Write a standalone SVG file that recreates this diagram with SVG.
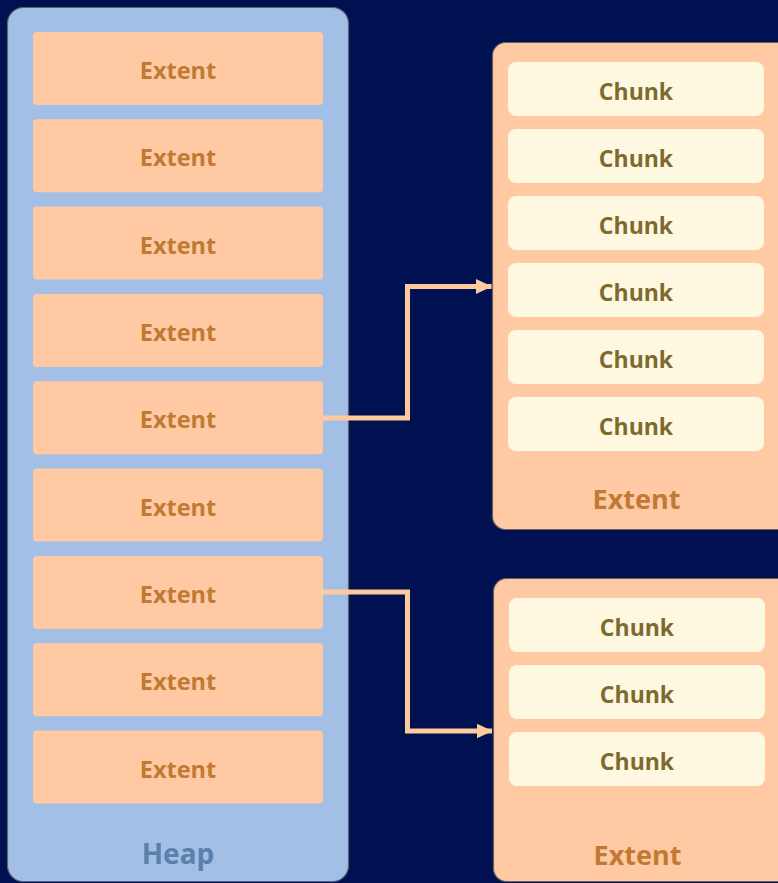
<svg xmlns="http://www.w3.org/2000/svg" width="778" height="883" viewBox="0 0 778 883">
  <defs>
    <style>
      .lbl { font-family: "Open Sans", "Noto Sans", "Liberation Sans", sans-serif; font-weight: bold; text-anchor: middle; }
      .heap { fill: #a3bfe6; stroke: #5d6474; stroke-width: 1.2; }
      .ext { fill: #ffcaa3; }
      .extbig { fill: #ffcaa3; stroke: #6b6060; stroke-width: 1.2; }
      .chunk { fill: #fff8e1; }
      .t-ext { fill: #c07a34; font-size: 23.5px; }
      .t-extbig { fill: #c07a34; font-size: 27px; }
      .t-chunk { fill: #7c6a2f; font-size: 23px; }
      .t-heap { fill: #5b80aa; font-size: 28px; }
      .wire { fill: none; stroke: #ffc99e; stroke-width: 5; }
    </style>
    <marker id="arrow" viewBox="0 0 16 15" refX="15.5" refY="7.5" markerWidth="16" markerHeight="15" markerUnits="userSpaceOnUse" orient="auto">
      <path d="M0,0 L16,7.5 L0,15 Z" fill="#ffc99e"/>
    </marker>
  </defs>

  <rect width="778" height="883" fill="#001152"/>

  <!-- Heap with its list of extents -->
  <g id="heap">
    <rect class="heap" x="7.5" y="7.5" width="341" height="874" rx="16"/>
    <text class="lbl t-heap" x="178" y="864">Heap</text>
  </g>
  <g id="heap-extent-1"><rect class="ext" x="33" y="32" width="290" height="73" rx="4"/><text class="lbl t-ext" x="178" y="79">Extent</text></g>
  <g id="heap-extent-2"><rect class="ext" x="33" y="119.3" width="290" height="73" rx="4"/><text class="lbl t-ext" x="178" y="166.3">Extent</text></g>
  <g id="heap-extent-3"><rect class="ext" x="33" y="206.6" width="290" height="73" rx="4"/><text class="lbl t-ext" x="178" y="253.6">Extent</text></g>
  <g id="heap-extent-4"><rect class="ext" x="33" y="294" width="290" height="73" rx="4"/><text class="lbl t-ext" x="178" y="341">Extent</text></g>
  <g id="heap-extent-5"><rect class="ext" x="33" y="381.3" width="290" height="73" rx="4"/><text class="lbl t-ext" x="178" y="428.3">Extent</text></g>
  <g id="heap-extent-6"><rect class="ext" x="33" y="468.6" width="290" height="73" rx="4"/><text class="lbl t-ext" x="178" y="515.6">Extent</text></g>
  <g id="heap-extent-7"><rect class="ext" x="33" y="556" width="290" height="73" rx="4"/><text class="lbl t-ext" x="178" y="603">Extent</text></g>
  <g id="heap-extent-8"><rect class="ext" x="33" y="643.3" width="290" height="73" rx="4"/><text class="lbl t-ext" x="178" y="690.3">Extent</text></g>
  <g id="heap-extent-9"><rect class="ext" x="33" y="730.6" width="290" height="73" rx="4"/><text class="lbl t-ext" x="178" y="777.6">Extent</text></g>

  <!-- Extent with six chunks -->
  <g id="extent-a">
    <rect class="extbig" x="492.5" y="42.5" width="300" height="487" rx="13"/>
    <rect class="chunk" x="508" y="62" width="256" height="54" rx="8"/><text class="lbl t-chunk" x="636" y="100">Chunk</text>
    <rect class="chunk" x="508" y="129" width="256" height="54" rx="8"/><text class="lbl t-chunk" x="636" y="167">Chunk</text>
    <rect class="chunk" x="508" y="196" width="256" height="54" rx="8"/><text class="lbl t-chunk" x="636" y="234">Chunk</text>
    <rect class="chunk" x="508" y="263" width="256" height="54" rx="8"/><text class="lbl t-chunk" x="636" y="301">Chunk</text>
    <rect class="chunk" x="508" y="330" width="256" height="54" rx="8"/><text class="lbl t-chunk" x="636" y="368">Chunk</text>
    <rect class="chunk" x="508" y="397" width="256" height="54" rx="8"/><text class="lbl t-chunk" x="636" y="435">Chunk</text>
    <text class="lbl t-extbig" x="636.5" y="509">Extent</text>
  </g>

  <!-- Extent with three chunks -->
  <g id="extent-b">
    <rect class="extbig" x="493.5" y="578.5" width="300" height="303" rx="13"/>
    <rect class="chunk" x="509" y="598" width="256" height="54" rx="8"/><text class="lbl t-chunk" x="637" y="636">Chunk</text>
    <rect class="chunk" x="509" y="665" width="256" height="54" rx="8"/><text class="lbl t-chunk" x="637" y="703">Chunk</text>
    <rect class="chunk" x="509" y="732" width="256" height="54" rx="8"/><text class="lbl t-chunk" x="637" y="770">Chunk</text>
    <text class="lbl t-extbig" x="637.5" y="865">Extent</text>
  </g>

  <!-- Connectors from heap extents to their expanded views -->
  <g id="connectors">
    <path class="wire" d="M323,418 H407.5 V286.5 H491.5" marker-end="url(#arrow)"/>
    <path class="wire" d="M323,592 H407.5 V731 H492" marker-end="url(#arrow)"/>
  </g>
</svg>
